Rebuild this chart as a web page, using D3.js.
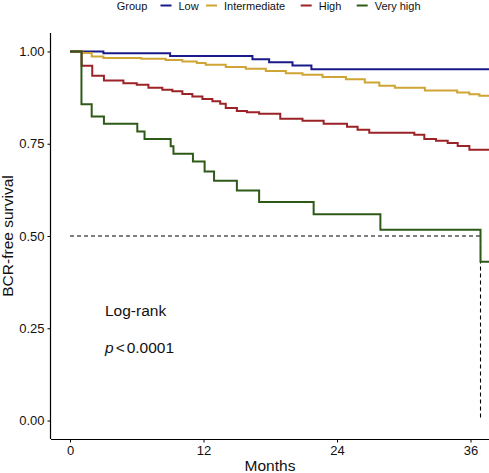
<!DOCTYPE html>
<html><head><meta charset="utf-8">
<script src="https://cdn.jsdelivr.net/npm/d3@7"></script>
<style>body{margin:0;background:#fff}svg{display:block}text{font-family:"Liberation Sans",Arial,sans-serif}</style>
</head><body><svg id="c" width="489" height="473"></svg>
<script>
const groups = ["Low", "Intermediate", "High", "Very high"];
const colors = ["#1a1a8a", "#cfa535", "#9b2226", "#2e5a18"];
const lowTimes = [0, 3.0, 9.0, 16.4, 17.9, 20.0, 21.7, 38];
const lowSurv  = [1, 0.995, 0.988, 0.979, 0.971, 0.962, 0.952, 0.952];
const intTimes = [0, 1.1, 1.95, 3.0, 6.4, 8.6, 10.1, 11.4, 12.2, 14.0, 15.8, 17.6, 19.4, 20.9, 22.7, 24.8, 26.5, 27.8, 29.2, 31.9, 34.8, 35.9, 36.8, 38];
const intSurv  = [1, 0.996, 0.986, 0.982, 0.980, 0.977, 0.973, 0.969, 0.964, 0.958, 0.953, 0.947, 0.941, 0.937, 0.931, 0.925, 0.916, 0.907, 0.902, 0.894, 0.889, 0.884, 0.880, 0.880];
const highTimes = [0, 1.05, 2.0, 3.05, 4.8, 6.0, 7.05, 8.3, 9.2, 10.1, 11.0, 11.9, 12.8, 13.5, 14.0, 15.0, 15.9, 17.0, 18.9, 20.9, 22.8, 24.9, 25.85, 26.9, 30.95, 31.85, 32.9, 33.95, 34.85, 35.9, 38];
const highSurv  = [1, 0.961, 0.934, 0.921, 0.914, 0.910, 0.902, 0.896, 0.892, 0.885, 0.878, 0.871, 0.865, 0.858, 0.847, 0.839, 0.835, 0.831, 0.818, 0.812, 0.804, 0.796, 0.788, 0.780, 0.774, 0.763, 0.758, 0.752, 0.744, 0.734, 0.734];
const vhTimes = [0, 1.03, 1.95, 3.05, 6.05, 6.7, 9.05, 9.3, 11.05, 12.1, 12.95, 15.0, 17.0, 21.9, 27.9, 36.9, 38];
const vhSurv  = [1, 0.857, 0.824, 0.804, 0.783, 0.763, 0.743, 0.723, 0.702, 0.675, 0.650, 0.623, 0.592, 0.559, 0.517, 0.430, 0.430];
const xTicks = [0, 12, 24, 36];
const yTicks = [0, 0.25, 0.5, 0.75, 1];

const series = [[lowTimes, lowSurv], [intTimes, intSurv], [highTimes, highSurv], [vhTimes, vhSurv]];
const svg = d3.select("#c");
const L = 51, R = 489, T = 33, B = 439;
const x = d3.scaleLinear().domain([0, 36]).range([70, 470.5]);
const y = d3.scaleLinear().domain([-0.05, 1.05]).range([B, T]);

svg.append("clipPath").attr("id", "clip").append("rect").attr("x", L).attr("y", 0).attr("width", R - L).attr("height", B);

const line = d3.line().x(d => x(d[0])).y(d => y(d[1])).curve(d3.curveStepAfter);
const g = svg.append("g").attr("clip-path", "url(#clip)");

// median line
const vt = vhTimes[vhSurv.findIndex(s => s < 0.5)];
g.append("path").attr("d", d3.line()([[x(0), y(0.5)], [x(vt), y(0.5)], [x(vt), y(0)]]))
  .attr("fill", "none").attr("stroke", "#000").attr("stroke-width", 1.1).attr("stroke-dasharray", "4,3");

series.forEach((s, i) => {
  const pts = s[0].map((t, j) => [t, s[1][j]]);
  g.append("path").datum(pts).attr("d", line).attr("fill", "none")
    .attr("stroke", colors[i]).attr("stroke-width", 2);
});

// axes
const xa = svg.append("g").attr("transform", `translate(0,${B})`)
  .call(d3.axisBottom(x).tickValues(xTicks).tickSize(3.5).tickPadding(3));
xa.select(".domain").attr("d", `M${L},0.5H${R}`);
const ya = svg.append("g").attr("transform", `translate(${L},0)`)
  .call(d3.axisLeft(y).tickValues(yTicks).tickFormat(d3.format(".2f")).tickSize(3.5).tickPadding(3));
ya.select(".domain").attr("d", `M-0.5,${T}V${B}`);
[xa, ya].forEach(a => {
  a.select(".domain").attr("stroke", "#000").attr("stroke-width", 1.2);
  a.selectAll(".tick line").attr("stroke", "#000");
  a.selectAll(".tick text").attr("fill", "#111").style("font-size", "13px").style("font-family", "Liberation Sans, Arial, sans-serif");
});

svg.append("text").attr("x", 270).attr("y", 471).attr("text-anchor", "middle").style("font-size", "15.5px").attr("fill", "#111").text("Months");
svg.append("text").attr("transform", `translate(13,${(T + B) / 2}) rotate(-90)`).attr("text-anchor", "middle").style("font-size", "15.5px").attr("fill", "#111").text("BCR-free survival");

svg.append("text").attr("x", 105).attr("y", 316).style("font-size", "15.5px").attr("fill", "#111").text("Log-rank");
const pt = svg.append("text").attr("x", 105).attr("y", 353).style("font-size", "15.5px").attr("fill", "#111");
pt.append("tspan").style("font-style", "italic").text("p");
pt.append("tspan").attr("dx", 2).text("<");
pt.append("tspan").attr("dx", 2).text("0.0001");

// legend
const leg = svg.append("g");
leg.append("text").attr("x", 116.7).attr("y", 9.5).style("font-size", "11px").attr("fill", "#111").text("Group");
const lx = [160.5, 206, 300.7, 356.7];
groups.forEach((gname, i) => {
  leg.append("line").attr("x1", lx[i]).attr("x2", lx[i] + 11).attr("y1", 5.5).attr("y2", 5.5)
    .attr("stroke", colors[i]).attr("stroke-width", 2);
  leg.append("text").attr("x", lx[i] + 18).attr("y", 9.5).style("font-size", "11px").attr("fill", "#111").text(gname);
});
</script></body></html>
